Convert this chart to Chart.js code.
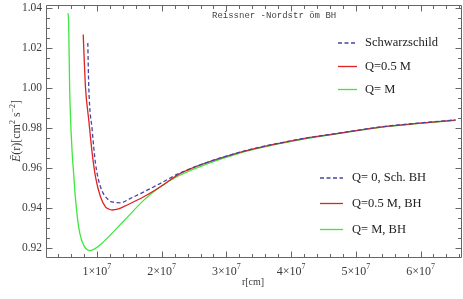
<!DOCTYPE html>
<html><head><meta charset="utf-8">
<script src="https://cdn.jsdelivr.net/npm/chart.js@4"></script>
<style>html,body{margin:0;padding:0;background:#fff}canvas{display:block}</style>
</head><body>
<canvas id="c" width="463" height="299"></canvas>
<script>
// r in units of 10^7 cm, E dimensionless (cm^2 s^-2 normalised)
const rSchw = [0.858, 0.873, 0.926, 0.977, 1.054, 1.182, 1.27, 1.363, 1.518, 1.776, 1.981, 2.29, 3.22, 4.15, 4.76, 5.38, 6.0, 6.54];
const eSchw = [1.0227, 1.0007, 0.9791, 0.9625, 0.9508, 0.9441, 0.9430, 0.9428, 0.945, 0.9491, 0.9525, 0.9578, 0.9682, 0.9747, 0.9777, 0.9807, 0.9827, 0.9842];
const rQhalf = [0.787, 0.822, 0.873, 0.926, 0.977, 1.054, 1.131, 1.18, 1.235, 1.32, 1.467, 1.723, 1.981, 2.29, 3.22, 4.15, 4.76, 5.38, 6.0, 6.54];
const eQhalf = [1.0269, 1.0007, 0.9841, 0.9675, 0.9558, 0.9458, 0.9408, 0.9397, 0.9392, 0.9396, 0.9417, 0.9458, 0.9508, 0.9575, 0.9681, 0.9746, 0.9776, 0.9806, 0.9826, 0.9841];
const rQM = [0.552, 0.561, 0.577, 0.614, 0.641, 0.665, 0.716, 0.757, 0.804, 0.850, 0.896, 0.958, 1.051, 1.155, 1.257, 1.464, 1.720, 1.978, 2.287, 3.22, 4.15, 4.76, 5.38, 6.0, 6.54];
const eQM = [1.0375, 1.0342, 1.0008, 0.9692, 0.9567, 0.9458, 0.9309, 0.9247, 0.9210, 0.9193, 0.9189, 0.9196, 0.9218, 0.9250, 0.9284, 0.9354, 0.9440, 0.9508, 0.9567, 0.9678, 0.9744, 0.9775, 0.9805, 0.9825, 0.984];

const xTickMantissa = [1, 2, 3, 4, 5, 6];
const xTickExponent = '7';
const yTickValues = [0.92, 0.94, 0.96, 0.98, 1.00, 1.02, 1.04];
const yTickLabels = ['0.92', '0.94', '0.96', '0.98', '1.00', '1.02', '1.04'];
const legendTop = ['Schwarzschild', 'Q=0.5 M', 'Q= M'];
const legendBottom = ['Q= 0, Sch. BH', 'Q=0.5 M, BH', 'Q= M, BH'];
const chartTitle = 'Reissner -Nordstr öm BH';
const xTitle = 'r[cm]';

const UNIT = 1e7;
const colors = ['#4646a6', '#e02222', '#40e640'];
const dashes = [[4, 2.5], [], []];
const serif = '"Liberation Serif", "Times New Roman", serif';

function toXY(r, e) { return r.map((v, i) => ({ x: v * UNIT, y: e[i] })); }

function drawRuns(ctx, runs, x, y) {
  let cx = x;
  for (const run of runs) {
    ctx.font = run.font;
    ctx.fillText(run.text, cx, y + (run.dy || 0));
    cx += ctx.measureText(run.text).width;
  }
}
function runsWidth(ctx, runs) {
  let w = 0;
  for (const run of runs) { ctx.font = run.font; w += ctx.measureText(run.text).width; }
  return w;
}

const decor = {
  id: 'decor',
  afterDraw(chart) {
    const ctx = chart.ctx;
    const ca = chart.chartArea;
    const xs = chart.scales.x, ys = chart.scales.y;
    ctx.save();
    // frame
    ctx.strokeStyle = '#666';
    ctx.lineWidth = 1;
    const L = Math.round(ca.left) + 0.5, R = Math.round(ca.right) - 0.5;
    const T = Math.round(ca.top) + 0.5, B = Math.round(ca.bottom) - 0.5;
    ctx.beginPath();
    ctx.rect(L, T, R - L, B - T);
    ctx.stroke();
    // y ticks
    ctx.beginPath();
    const yMinor = [];
    yTickValues.forEach(v => { for (let k = 1; k < 4; k++) yMinor.push(v + k * 0.005); });
    yMinor.push(yTickValues[0] - 0.005);
    const tickY = (v, len) => {
      if (v < ys.min || v > ys.max) return;
      const py = Math.round(ys.getPixelForValue(v)) + 0.5;
      ctx.moveTo(L, py); ctx.lineTo(L + len, py);
      ctx.moveTo(R, py); ctx.lineTo(R - len, py);
    };
    yTickValues.forEach(v => tickY(v, 6));
    yMinor.forEach(v => tickY(v, 3.5));
    // x ticks
    const tickX = (v, len) => {
      if (v < xs.min || v > xs.max) return;
      const px = Math.round(xs.getPixelForValue(v)) + 0.5;
      ctx.moveTo(px, B); ctx.lineTo(px, B - len);
      ctx.moveTo(px, T); ctx.lineTo(px, T + len);
    };
    xTickMantissa.forEach(m => tickX(m * UNIT, 6));
    for (let m = 0; m <= 7; m += 0.2) {
      if (Math.abs(m - Math.round(m)) > 1e-6) tickX(m * UNIT, 3.5);
    }
    ctx.stroke();

    // y tick labels
    ctx.fillStyle = '#3a3a3a';
    ctx.font = '11.5px ' + serif;
    ctx.textAlign = 'right';
    ctx.textBaseline = 'middle';
    yTickValues.forEach((v, i) => ctx.fillText(yTickLabels[i], 42, ys.getPixelForValue(v)));

    // x tick labels with superscript
    ctx.textAlign = 'left';
    ctx.textBaseline = 'alphabetic';
    xTickMantissa.forEach(m => {
      const runs = [{ text: m + '×10', font: '12px ' + serif }, { text: xTickExponent, font: '8px ' + serif, dy: -6 }];
      const w = runsWidth(ctx, runs);
      drawRuns(ctx, runs, xs.getPixelForValue(m * UNIT) - w / 2, 275);
    });

    // x title
    ctx.font = '10px ' + serif;
    ctx.textAlign = 'center';
    ctx.fillText(xTitle, 253, 285);

    // y title (rotated)
    ctx.save();
    ctx.translate(20, 131);
    ctx.rotate(-Math.PI / 2);
    ctx.textAlign = 'left';
    const yRuns = [
      { text: 'Ē', font: 'italic 12px ' + serif },
      { text: '(r)[cm', font: '12px ' + serif },
      { text: '2', font: '8px ' + serif, dy: -5 },
      { text: ' s', font: '12px ' + serif },
      { text: '−2', font: '8px ' + serif, dy: -5 },
      { text: ']', font: '12px ' + serif }
    ];
    const yw = runsWidth(ctx, yRuns);
    drawRuns(ctx, yRuns, -yw / 2, 0);
    ctx.restore();

    // title
    ctx.fillStyle = '#444';
    ctx.font = '9px "Liberation Mono", "DejaVu Sans Mono", monospace';
    ctx.textAlign = 'left';
    ctx.fillText(chartTitle, 212, 18);

    // legends
    const drawLegend = (labels, rowsY, x0, x1, tx) => {
      labels.forEach((lab, i) => {
        ctx.beginPath();
        ctx.strokeStyle = colors[i];
        ctx.lineWidth = 1.3;
        ctx.setLineDash(dashes[i]);
        ctx.moveTo(x0, rowsY[i]); ctx.lineTo(x1, rowsY[i]);
        ctx.stroke();
        ctx.setLineDash([]);
        ctx.fillStyle = '#222';
        ctx.font = '12.5px ' + serif;
        ctx.textBaseline = 'middle';
        ctx.fillText(lab, tx, rowsY[i]);
      });
    };
    drawLegend(legendTop, [43, 66.5, 89.5], 338, 357, 365);
    drawLegend(legendBottom, [178, 203.5, 229.5], 320, 343, 352);
    ctx.restore();
  }
};

const seriesR = [rSchw, rQhalf, rQM];
const seriesE = [eSchw, eQhalf, eQM];
const datasets = seriesR.map((r, i) => ({
  data: toXY(r, seriesE[i]),
  borderColor: colors[i],
  borderWidth: 1.3,
  borderDash: dashes[i],
  pointRadius: 0,
  fill: false,
  cubicInterpolationMode: 'monotone'
}));

new Chart(document.getElementById('c').getContext('2d'), {
  type: 'line',
  data: { datasets },
  options: {
    responsive: false,
    animation: false,
    events: [],
    layout: { padding: { left: 0, right: 1, top: 5, bottom: 0 } },
    plugins: { legend: { display: false }, tooltip: { enabled: false }, title: { display: false } },
    scales: {
      x: {
        type: 'linear', min: 0.212 * UNIT, max: 6.641 * UNIT,
        ticks: { display: false }, grid: { display: false, drawTicks: false }, border: { display: false },
        afterFit(s) { s.height = 41; }
      },
      y: {
        type: 'linear', min: 0.9152, max: 1.04165,
        ticks: { display: false }, grid: { display: false, drawTicks: false }, border: { display: false },
        afterFit(s) { s.width = 46; }
      }
    }
  },
  plugins: [decor]
});
</script>
</body></html>
